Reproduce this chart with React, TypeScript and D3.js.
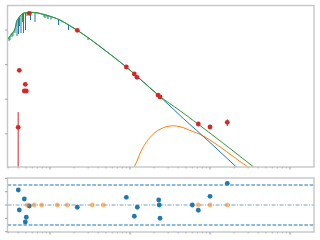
import React from "react";
import * as d3 from "d3";

// ---------- data (wavelength in micron, flux density) ----------
const photWave = [0.40, 0.413, 0.477, 0.491, 0.506, 0.551, 2.194, 8.99, 11.32, 12.23, 22.4, 23.7, 71.4, 100, 164.5];
const photFlux = [0.0154, 0.684, 0.1726, 0.27, 0.1726, 30.4, 9.8, 0.853, 0.535, 0.43, 0.132, 0.116, 0.0192, 0.01574, 0.0215];
const photErr = [0.027, 0.02, 0.005, 0.008, 0.005, 0.6, 0.2, 0.02, 0.012, 0.01, 0.003, 0.003, 0.0025, 0.002, 0.0047];

// stellar model continuum (shared by photosphere and total model)
const specWave = [0.2985, 0.3162, 0.335, 0.3548, 0.3705, 0.3813, 0.3981, 0.4217, 0.4467, 0.4732, 0.5158, 0.5623, 0.631, 0.7079, 0.7943, 0.8913, 1.0, 1.155, 1.334, 1.54, 1.778, 2.194, 2.738, 4.217, 6.494, 8.991, 13.34, 22.85];
const specFlux = [5.495, 6.708, 7.923, 9.357, 12.21, 17.03, 20.79, 25.39, 29.0, 30.99, 32.05, 32.48, 32.05, 30.99, 29.0, 27.14, 24.89, 22.23, 19.45, 16.15, 13.22, 9.8, 6.935, 3.336, 1.551, 0.852, 0.3836, 0.1279];

// photosphere tail and total-model tail
const photoTailWave = [22.85, 46.38, 100, 211.3, 421.7];
const photoTailFlux = [0.1279, 0.02768, 0.005605, 0.001119, 0.000254];
const totalTailWave = [22.85, 42.17, 61.83, 146.7, 347.7, 421.7];
const totalTailFlux = [0.1279, 0.04652, 0.02423, 0.005313, 0.001119, 0.000787];

// dust component
const dustWave = [10.29, 11.32, 12.23, 13.34, 16.17, 19.55, 23.71, 29.0, 34.78, 42.17, 61.83, 75.0, 100, 161.7, 237.1, 292.7, 335.0];
const dustFlux = [0.000644, 0.001119, 0.001637, 0.002731, 0.00591, 0.009867, 0.01349, 0.01626, 0.01703, 0.01604, 0.0115, 0.009672, 0.006619, 0.003039, 0.001583, 0.001119, 0.000787];

// absorption features [wavelength, continuum, depth]
const photoLineWave = [0.3073, 0.335, 0.3869, 0.4039, 0.434, 0.4664, 0.4941, 0.5705, 0.6494, 0.866, 0.9441, 1.029, 1.277, 1.703, 2.985];
const photoLineTop = [6.07, 7.923, 18.2, 21.79, 27.14, 30.38, 31.41, 32.48, 31.84, 27.5, 26.08, 24.4, 20.38, 14.14, 5.794];
const photoLineBottom = [4.81, 6.277, 6.708, 7.663, 8.193, 8.193, 10.0, 19.45, 17.03, 22.23, 20.79, 20.11, 13.95, 10.0, 5.14];
const totalLineWave = [0.3162, 0.3449, 0.3652, 0.4157, 0.4532, 0.5158, 0.8414, 0.9173, 1.413];
const totalLineTop = [6.708, 8.58, 10.69, 22.97, 29.0, 32.05, 28.05, 26.78, 18.2];
const totalLineBottom = [5.14, 6.708, 8.193, 13.05, 17.03, 25.39, 23.76, 22.97, 16.47];

// residuals
const resWave = [0.4016, 0.4133, 0.4773, 0.5055, 0.4912, 0.5511, 2.194, 8.991, 11.32, 12.34, 22.85, 23.71, 23.2, 60.08, 71.41, 100, 164.5];
const resValue = [2.25, -0.75, 0.9, -1.84, -2.55, -0.15, -0.34, 1.15, -1.69, -0.34, 0.75, -1.99, 0.0, 0.0, -0.79, 1.3, 3.25];
const limWave = [0.5203, 0.6364, 0.7874, 1.234, 1.645, 3.379, 4.637, 71.41, 100, 164.5];
const limValue = [0, 0, 0, 0, 0, 0, 0, 0, 0, 0];

const xMajor = [1, 10, 100, 1000];
const yMajor = [0.01, 0.1, 1, 10];
const rTicks = [-4, -2, 0, 2, 4];
const sigmaLines = [-3, 3];

const BLUE = "#1f77b4";
const ORANGE = "#ff7f0e";
const GREEN = "#2ca02c";
const RED = "#d62728";
const SPINE = "#c6c6c6";
const TICK = "#a8a8a8";

export default function App() {
  const L = 7.5, R = 314, T = 5.5, B = 167, T2 = 178, B2 = 232;
  const x = d3.scaleLog().domain([0.2942, 1995]).range([L, R]);
  const y = d3.scaleLog().domain([1.098e-3, 51.05]).range([B, T]);
  const yr = d3.scaleLinear().domain([-4.05, 4.05]).range([B2, T2]);

  const line = d3
    .line<[number, number]>()
    .x((d) => x(d[0]))
    .y((d) => y(d[1]))
    .curve(d3.curveMonotoneX);

  const spec = specWave.map((w, i) => [w, specFlux[i]] as [number, number]);
  const photo = spec.concat(photoTailWave.slice(1).map((w, i) => [w, photoTailFlux[i + 1]] as [number, number]));
  const total = spec.concat(totalTailWave.slice(1).map((w, i) => [w, totalTailFlux[i + 1]] as [number, number]));
  const dust = dustWave.map((w, i) => [w, dustFlux[i]] as [number, number]);

  const xt = x.ticks().filter((t) => t >= 0.2942 && t <= 1995);
  const isMajor = (t: number) => Math.abs(Math.log10(t) - Math.round(Math.log10(t))) < 1e-6;

  return (
    <svg
      width={320}
      height={240}
      style={{ position: "absolute", left: 0, top: 0, background: "#fff" }}
      xmlns="http://www.w3.org/2000/svg"
    >
      <defs>
        <clipPath id="top">
          <rect x={L} y={T} width={R - L} height={B - T} />
        </clipPath>
        <clipPath id="bot">
          <rect x={L} y={T2} width={R - L} height={B2 - T2} />
        </clipPath>
      </defs>
      <rect width={320} height={240} fill="#fff" />

      {/* top panel */}
      <g clipPath="url(#top)" fill="none" strokeWidth={1}>
        <path d={line(dust) || ""} stroke={ORANGE} />
        <path d={line(photo) || ""} stroke={BLUE} />
        {photoLineWave.map((w, i) => (
          <line key={"pl" + i} x1={x(w)} x2={x(w)} y1={y(photoLineTop[i])} y2={y(photoLineBottom[i])} stroke={BLUE} />
        ))}
        <path d={line(total) || ""} stroke={GREEN} />
        {totalLineWave.map((w, i) => (
          <line key={"tl" + i} x1={x(w)} x2={x(w)} y1={y(totalLineTop[i])} y2={y(totalLineBottom[i])} stroke={GREEN} />
        ))}
        {photWave.map((w, i) => {
          const lo = photFlux[i] - photErr[i];
          const y2 = lo > 0 ? y(lo) : B + 5;
          return (
            <line key={"e" + i} x1={x(w)} x2={x(w)} y1={y(photFlux[i] + photErr[i])} y2={y2} stroke={RED} strokeWidth={1} />
          );
        })}
        {photWave.map((w, i) => (
          <circle key={"p" + i} cx={x(w)} cy={y(photFlux[i])} r={2.4} fill={RED} stroke="none" />
        ))}
      </g>

      {/* bottom panel */}
      <g clipPath="url(#bot)">
        {sigmaLines.map((s) => (
          <line key={"s" + s} x1={L} x2={R} y1={yr(s)} y2={yr(s)} stroke={BLUE} strokeWidth={1} strokeDasharray="3.7,1.6" />
        ))}
        <line x1={L} x2={R} y1={yr(0)} y2={yr(0)} stroke={BLUE} strokeOpacity={0.65} strokeWidth={1} strokeDasharray="4,1.5,1,1.5" />
        {resWave.map((w, i) => (
          <circle key={"r" + i} cx={x(w)} cy={yr(resValue[i])} r={2.4} fill={BLUE} />
        ))}
        {limWave.map((w, i) => (
          <circle key={"o" + i} cx={x(w)} cy={yr(limValue[i])} r={2.4} fill={ORANGE} fillOpacity={0.55} />
        ))}
      </g>

      {/* spines */}
      <rect x={L} y={T} width={R - L} height={B - T} fill="none" stroke={SPINE} strokeWidth={1.4} />
      <rect x={L} y={T2} width={R - L} height={B2 - T2} fill="none" stroke={SPINE} strokeWidth={1.4} />

      {/* ticks */}
      {xt.map((t, i) => {
        const m = isMajor(t);
        return (
          <g key={"xt" + i} stroke={TICK} strokeWidth={m ? 1.2 : 0.9}>
            <line x1={x(t)} x2={x(t)} y1={B} y2={B + (m ? 2.5 : 1.5)} />
            <line x1={x(t)} x2={x(t)} y1={B2} y2={B2 + (m ? 2.5 : 1.5)} />
          </g>
        );
      })}
      {yMajor.map((t) => (
        <line key={"yt" + t} x1={L - 2.5} x2={L} y1={y(t)} y2={y(t)} stroke={TICK} strokeWidth={1.1} />
      ))}
      {rTicks.map((t) => (
        <line key={"rt" + t} x1={L - 2.5} x2={L} y1={yr(t)} y2={yr(t)} stroke={TICK} strokeWidth={1.1} />
      ))}
    </svg>
  );
}
